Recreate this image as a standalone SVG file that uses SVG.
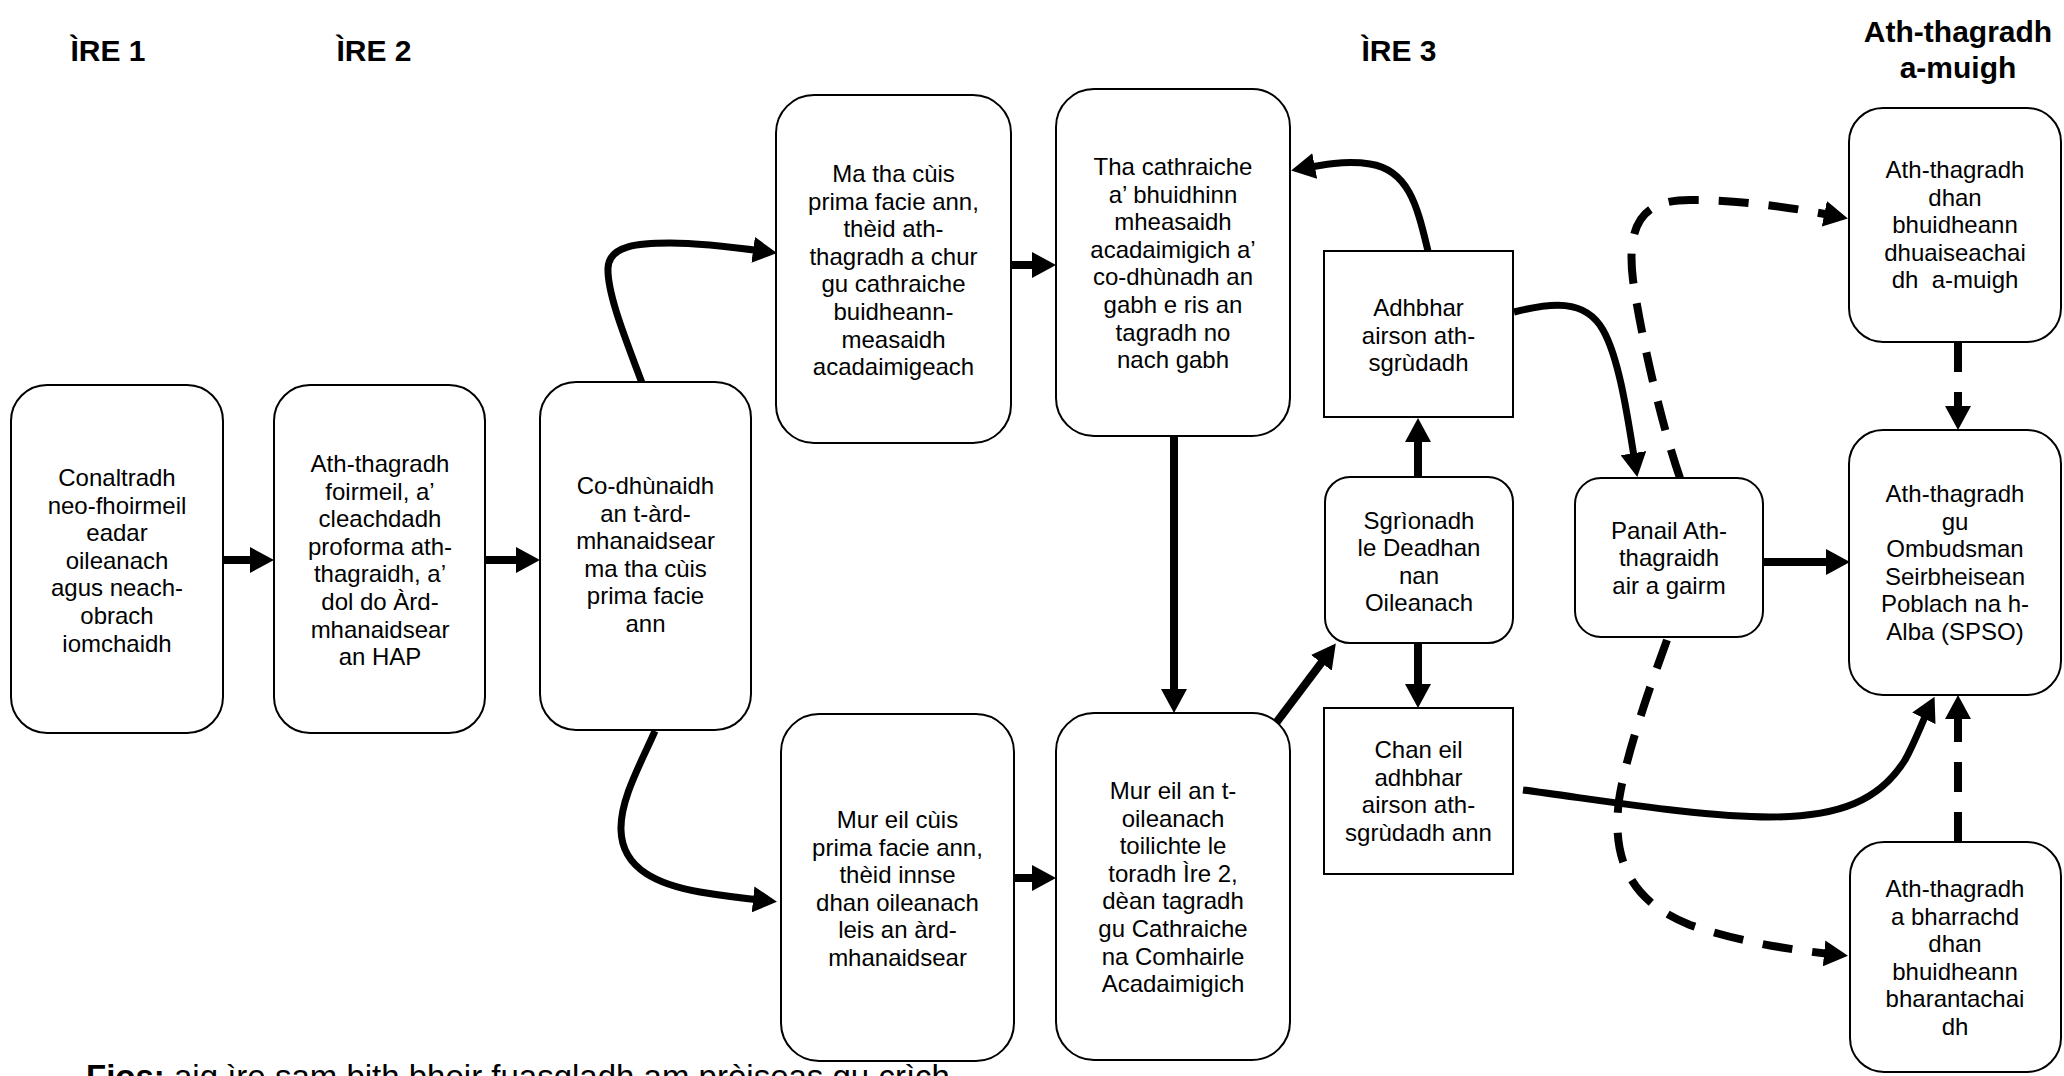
<svg xmlns="http://www.w3.org/2000/svg" width="2064" height="1076" viewBox="0 0 2064 1076">
<defs>
<style>
.box{fill:#fff;stroke:#000;stroke-width:2}
.t{font-family:"Liberation Sans",Arial,sans-serif;font-size:24px;text-anchor:middle;fill:#000;white-space:pre}
.h{font-family:"Liberation Sans",Arial,sans-serif;font-size:30px;font-weight:bold;text-anchor:middle;fill:#000}
.f{font-family:"Liberation Sans",Arial,sans-serif;font-size:33px;fill:#000}
.c{fill:none;stroke:#000;stroke-width:8;marker-end:url(#ah)}
.cv{fill:none;stroke:#000;stroke-width:7;marker-end:url(#ah)}
.d{fill:none;stroke:#000;stroke-width:8;stroke-dasharray:30 20;marker-end:url(#ah)}
</style>
<marker id="ah" markerUnits="userSpaceOnUse" markerWidth="26" markerHeight="26" refX="16" refY="13" orient="auto">
<path d="M0,0 L24,13 L0,26 Z" fill="#000"/>
</marker>
</defs>
<rect width="2064" height="1076" fill="#fff"/>

<g id="headers">
<text class="h" x="108" y="61">ÌRE 1</text>
<text class="h" x="374" y="61">ÌRE 2</text>
<text class="h" x="1399" y="61">ÌRE 3</text>
<text class="h"><tspan x="1958" y="42">Ath-thagradh</tspan><tspan x="1958" y="78">a-muigh</tspan></text>
</g>

<g id="connectors">
<path class="c" d="M224,560 H266"/>
<path class="c" d="M486,560 H532"/>
<path class="cv" d="M642,383 C628,345 607,295 608,268 C609,245 640,243 670,243 C700,243 740,248 769,252"/>
<path class="cv" d="M655,731 C640,765 620,800 621,830 C622,870 660,885 700,892 C730,897 750,899 769,901"/>
<path class="c" d="M1012,265 H1048"/>
<path class="c" d="M1174,437 V705"/>
<path class="c" d="M1015,878 H1048"/>
<path class="c" d="M1276,723 L1331,650"/>
<path class="c" d="M1418,477 V426"/>
<path class="c" d="M1418,643 V700"/>
<path class="cv" d="M1428,251 C1418,210 1410,170 1370,164 C1345,160 1320,165 1299,169"/>
<path class="cv" d="M1514,312 C1550,303 1585,298 1603,330 C1620,360 1628,420 1636,469"/>
<path class="c" d="M1763,562 H1842"/>
<path class="cv" d="M1523,790 C1600,800 1700,817 1770,817 C1840,817 1880,800 1905,760 C1915,742 1922,722 1931,704"/>
<path class="d" d="M1680,478 C1660,420 1640,330 1633,280 C1625,215 1650,200 1690,200 C1740,200 1790,207 1840,217"/>
<path class="d" d="M1667,640 C1645,700 1625,760 1619,800 C1610,870 1640,905 1690,925 C1740,942 1790,950 1840,955"/>
<path class="d" d="M1958,342 V422"/>
<path class="d" d="M1958,842 V703"/>
</g>

<g id="n1">
<rect class="box" x="11" y="385" width="212" height="348" rx="36"/>
<text class="t"><tspan x="117" y="486">Conaltradh</tspan><tspan x="117" y="513.6">neo-fhoirmeil</tspan><tspan x="117" y="541.2">eadar</tspan><tspan x="117" y="568.8">oileanach</tspan><tspan x="117" y="596.4">agus neach-</tspan><tspan x="117" y="624">obrach</tspan><tspan x="117" y="651.6">iomchaidh</tspan></text>
</g>

<g id="n2">
<rect class="box" x="274" y="385" width="211" height="348" rx="36"/>
<text class="t"><tspan x="380" y="472">Ath-thagradh</tspan><tspan x="380" y="499.6">foirmeil, a’</tspan><tspan x="380" y="527.2">cleachdadh</tspan><tspan x="380" y="554.8">proforma ath-</tspan><tspan x="380" y="582.4">thagraidh, a’</tspan><tspan x="380" y="610">dol do Àrd-</tspan><tspan x="380" y="637.6">mhanaidsear</tspan><tspan x="380" y="665.2">an HAP</tspan></text>
</g>

<g id="n3">
<rect class="box" x="540" y="382" width="211" height="348" rx="36"/>
<text class="t"><tspan x="645.5" y="494">Co-dhùnaidh</tspan><tspan x="645.5" y="521.6">an t-àrd-</tspan><tspan x="645.5" y="549.2">mhanaidsear</tspan><tspan x="645.5" y="576.8">ma tha cùis</tspan><tspan x="645.5" y="604.4">prima facie</tspan><tspan x="645.5" y="632">ann</tspan></text>
</g>

<g id="n4">
<rect class="box" x="776" y="95" width="235" height="348" rx="38"/>
<text class="t"><tspan x="893.5" y="182">Ma tha cùis</tspan><tspan x="893.5" y="209.6">prima facie ann,</tspan><tspan x="893.5" y="237.2">thèid ath-</tspan><tspan x="893.5" y="264.8">thagradh a chur</tspan><tspan x="893.5" y="292.4">gu cathraiche</tspan><tspan x="893.5" y="320">buidheann-</tspan><tspan x="893.5" y="347.6">measaidh</tspan><tspan x="893.5" y="375.2">acadaimigeach</tspan></text>
</g>

<g id="n5">
<rect class="box" x="1056" y="89" width="234" height="347" rx="38"/>
<text class="t"><tspan x="1173" y="175">Tha cathraiche</tspan><tspan x="1173" y="202.6">a’ bhuidhinn</tspan><tspan x="1173" y="230.2">mheasaidh</tspan><tspan x="1173" y="257.8">acadaimigich a’</tspan><tspan x="1173" y="285.4">co-dhùnadh an</tspan><tspan x="1173" y="313">gabh e ris an</tspan><tspan x="1173" y="340.6">tagradh no</tspan><tspan x="1173" y="368.2">nach gabh</tspan></text>
</g>

<g id="n6">
<rect class="box" x="781" y="714" width="233" height="347" rx="38"/>
<text class="t"><tspan x="897.5" y="828">Mur eil cùis</tspan><tspan x="897.5" y="855.6">prima facie ann,</tspan><tspan x="897.5" y="883.2">thèid innse</tspan><tspan x="897.5" y="910.8">dhan oileanach</tspan><tspan x="897.5" y="938.4">leis an àrd-</tspan><tspan x="897.5" y="966">mhanaidsear</tspan></text>
</g>

<g id="n7">
<rect class="box" x="1056" y="713" width="234" height="347" rx="38"/>
<text class="t"><tspan x="1173" y="799">Mur eil an t-</tspan><tspan x="1173" y="826.6">oileanach</tspan><tspan x="1173" y="854.2">toilichte le</tspan><tspan x="1173" y="881.8">toradh Ìre 2,</tspan><tspan x="1173" y="909.4">dèan tagradh</tspan><tspan x="1173" y="937">gu Cathraiche</tspan><tspan x="1173" y="964.6">na Comhairle</tspan><tspan x="1173" y="992.2">Acadaimigich</tspan></text>
</g>

<g id="adhbhar">
<rect class="box" x="1324" y="251" width="189" height="166"/>
<text class="t"><tspan x="1418.5" y="316">Adhbhar</tspan><tspan x="1418.5" y="343.6">airson ath-</tspan><tspan x="1418.5" y="371.2">sgrùdadh</tspan></text>
</g>

<g id="sgrionadh">
<rect class="box" x="1325" y="477" width="188" height="166" rx="25"/>
<text class="t"><tspan x="1419" y="528.5">Sgrìonadh</tspan><tspan x="1419" y="556.1">le Deadhan</tspan><tspan x="1419" y="583.7">nan</tspan><tspan x="1419" y="611.3">Oileanach</tspan></text>
</g>

<g id="chan-eil">
<rect class="box" x="1324" y="708" width="189" height="166"/>
<text class="t"><tspan x="1418.5" y="758">Chan eil</tspan><tspan x="1418.5" y="785.6">adhbhar</tspan><tspan x="1418.5" y="813.2">airson ath-</tspan><tspan x="1418.5" y="840.8">sgrùdadh ann</tspan></text>
</g>

<g id="panail">
<rect class="box" x="1575" y="478" width="188" height="159" rx="26"/>
<text class="t"><tspan x="1669" y="538.5">Panail Ath-</tspan><tspan x="1669" y="566.1">thagraidh</tspan><tspan x="1669" y="593.7">air a gairm</tspan></text>
</g>

<g id="dhan">
<rect class="box" x="1849" y="108" width="212" height="234" rx="34"/>
<text class="t"><tspan x="1955" y="178">Ath-thagradh</tspan><tspan x="1955" y="205.6">dhan</tspan><tspan x="1955" y="233.2">bhuidheann</tspan><tspan x="1955" y="260.8">dhuaiseachai</tspan><tspan x="1955" y="288.4">dh  a-muigh</tspan></text>
</g>

<g id="spso">
<rect class="box" x="1849" y="430" width="212" height="265" rx="34"/>
<text class="t"><tspan x="1955" y="502">Ath-thagradh</tspan><tspan x="1955" y="529.6">gu</tspan><tspan x="1955" y="557.2">Ombudsman</tspan><tspan x="1955" y="584.8">Seirbheisean</tspan><tspan x="1955" y="612.4">Poblach na h-</tspan><tspan x="1955" y="640">Alba (SPSO)</tspan></text>
</g>

<g id="bharantachaidh">
<rect class="box" x="1850" y="842" width="211" height="230" rx="34"/>
<text class="t"><tspan x="1955" y="897">Ath-thagradh</tspan><tspan x="1955" y="924.6">a bharrachd</tspan><tspan x="1955" y="952.2">dhan</tspan><tspan x="1955" y="979.8">bhuidheann</tspan><tspan x="1955" y="1007.4">bharantachai</tspan><tspan x="1955" y="1035">dh</tspan></text>
</g>

<text class="f" x="86" y="1088"><tspan font-weight="bold">Fios:</tspan> aig ìre sam bith bheir fuasgladh am pròiseas gu crìch</text>
</svg>
